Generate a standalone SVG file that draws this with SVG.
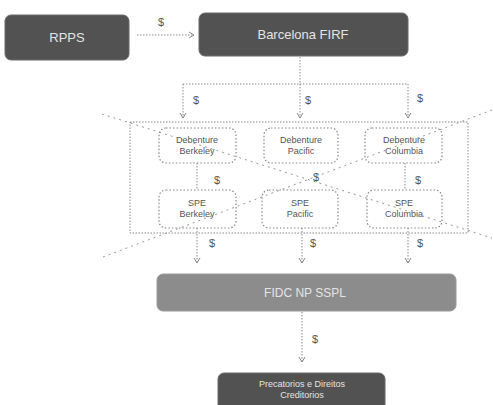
<svg xmlns="http://www.w3.org/2000/svg" width="493" height="405" viewBox="0 0 493 405">
<style>
.dark{fill:#525252;stroke:#6a6a6a;stroke-width:1}
.lt{font-family:"Liberation Sans",Arial,sans-serif;fill:#e4e4e4;text-anchor:middle}
.bx{fill:#fff;stroke:#888;stroke-width:1.2;stroke-dasharray:1.5 2}
.bt{font-family:"Liberation Sans",Arial,sans-serif;font-size:9px;fill:#555;text-anchor:middle}
.c{fill:none;stroke:#888;stroke-width:1;stroke-dasharray:1.5 1.5}
.x{fill:none;stroke:#999;stroke-width:1;stroke-dasharray:2 4}
.d{font-family:"Liberation Sans",Arial,sans-serif;font-size:11px;fill:#555;text-anchor:middle}
</style>
<defs>
<marker id="ah" markerWidth="8" markerHeight="8" refX="6" refY="4" orient="auto" markerUnits="userSpaceOnUse">
<path d="M1,1 L6,4 L1,7" fill="none" stroke="#888" stroke-width="1"/>
</marker>
</defs>
<rect width="493" height="405" fill="#fff"/>
<g id="connectors">
<line class="c" x1="137" y1="35" x2="194" y2="35" marker-end="url(#ah)"/>
<text class="d" x="161" y="26">$</text>
<polyline class="c" points="300,57 300,84"/>
<polyline class="c" points="183,84 408,84"/>
<line class="c" x1="183" y1="84" x2="183" y2="118" marker-end="url(#ah)"/>
<line class="c" x1="300" y1="84" x2="300" y2="118" marker-end="url(#ah)"/>
<line class="c" x1="408" y1="84" x2="408" y2="118" marker-end="url(#ah)"/>
<text class="d" x="196" y="104">$</text>
<text class="d" x="308" y="104">$</text>
<text class="d" x="420" y="102">$</text>
<rect class="c" x="130" y="122" width="338" height="111"/>
<line class="c" x1="197" y1="163" x2="197" y2="190"/>
<line class="c" x1="405" y1="163" x2="405" y2="190"/>
<text class="d" x="217" y="184">$</text>
<text class="d" x="418" y="184">$</text>
<line class="c" x1="197" y1="228" x2="197" y2="263" marker-end="url(#ah)"/>
<line class="c" x1="302" y1="228" x2="302" y2="263" marker-end="url(#ah)"/>
<line class="c" x1="408" y1="228" x2="408" y2="263" marker-end="url(#ah)"/>
<text class="d" x="212" y="247">$</text>
<text class="d" x="313" y="247">$</text>
<text class="d" x="420" y="247">$</text>
<line class="c" x1="302" y1="312" x2="302" y2="362" marker-end="url(#ah)"/>
<text class="d" x="315" y="343">$</text>
</g>
<g id="rpps">
<rect class="dark" x="5" y="15" width="124" height="45" rx="6"/>
<text class="lt" x="67" y="42" font-size="13">RPPS</text>
</g>
<g id="barcelona">
<rect class="dark" x="199" y="13" width="209" height="43" rx="6" fill="#4a4a4a"/>
<text class="lt" x="303" y="39" font-size="13">Barcelona FIRF</text>
</g>
<g id="deb-berkeley">
<rect class="bx" x="159" y="128" width="77" height="35" rx="7"/>
<text class="bt" x="197" y="143">Debenture</text>
<text class="bt" x="197" y="154">Berkeley</text>
</g>
<g id="deb-pacific">
<rect class="bx" x="264" y="128" width="74" height="35" rx="7"/>
<text class="bt" x="301" y="143">Debenture</text>
<text class="bt" x="301" y="154">Pacific</text>
</g>
<g id="deb-columbia">
<rect class="bx" x="365" y="128" width="77" height="35" rx="7"/>
<text class="bt" x="404" y="143">Debenture</text>
<text class="bt" x="404" y="154">Columbia</text>
</g>
<g id="spe-berkeley">
<rect class="bx" x="159" y="190" width="77" height="38" rx="7"/>
<text class="bt" x="197" y="206">SPE</text>
<text class="bt" x="197" y="217">Berkeley</text>
</g>
<g id="spe-pacific">
<rect class="bx" x="262" y="190" width="76" height="38" rx="7"/>
<text class="bt" x="300" y="206">SPE</text>
<text class="bt" x="300" y="217">Pacific</text>
</g>
<g id="spe-columbia">
<rect class="bx" x="367" y="190" width="75" height="38" rx="7"/>
<text class="bt" x="404" y="206">SPE</text>
<text class="bt" x="404" y="217">Columbia</text>
</g>
<g id="fidc">
<rect x="157" y="274" width="299" height="37" rx="6" fill="#8c8c8c" stroke="#9a9a9a"/>
<text class="lt" x="305" y="297" font-size="12">FIDC NP SSPL</text>
</g>
<g id="precatorios">
<rect class="dark" x="218" y="373" width="167" height="40" rx="6" fill="#5a5a5a"/>
<text class="lt" x="302" y="387" font-size="9">Precatorios e Direitos</text>
<text class="lt" x="302" y="398" font-size="9">Creditorios</text>
</g>
<g id="cross">
<line class="x" x1="102" y1="114" x2="492" y2="238"/>
<line class="x" x1="103" y1="257" x2="492" y2="110"/>
<text class="d" x="316" y="181">$</text>
</g>
</svg>
